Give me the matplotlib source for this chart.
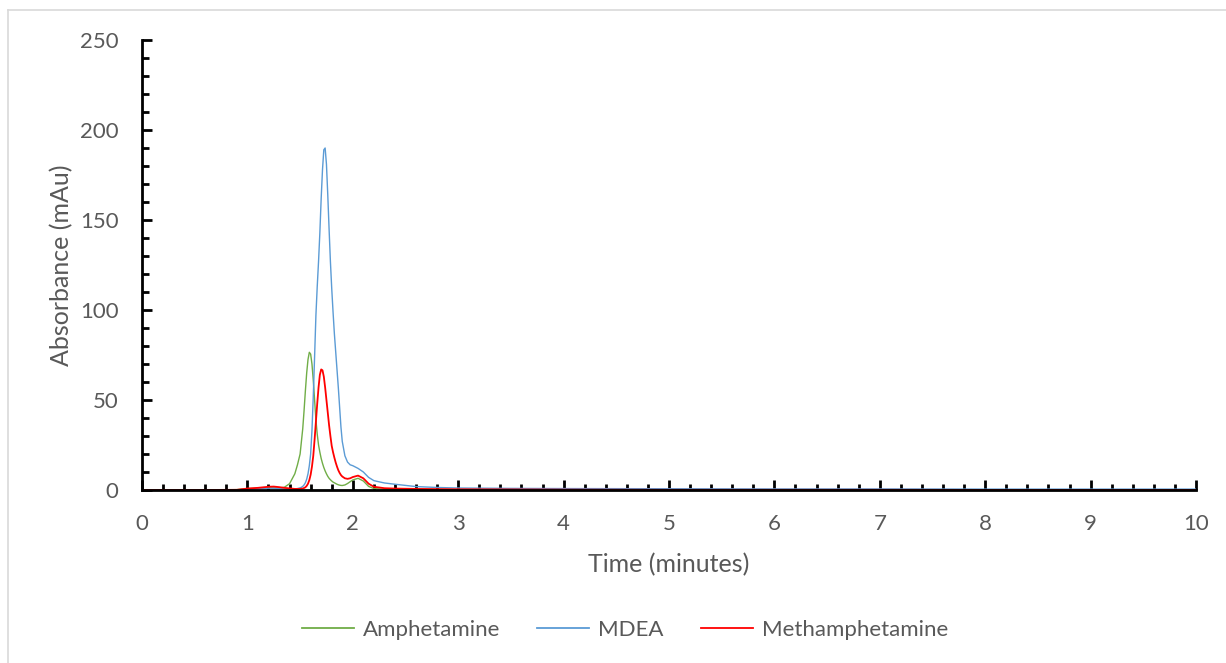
import matplotlib.pyplot as plt
from matplotlib.lines import Line2D
from matplotlib.ticker import MultipleLocator

# retention time (minutes) and absorbance (mAu)
time_min = [0, 0.5, 0.9, 1.0, 1.1, 1.2, 1.25, 1.3, 1.35, 1.4, 1.45, 1.475,
            1.5, 1.5125, 1.525, 1.5375, 1.55, 1.5625, 1.575, 1.5875, 1.6, 1.6125, 1.625,
            1.6375, 1.65, 1.6625, 1.675, 1.6875, 1.7, 1.7125, 1.725, 1.7375, 1.75, 1.7625,
            1.775, 1.7875, 1.8, 1.8125, 1.825, 1.8375, 1.85, 1.8625, 1.875, 1.8875, 1.9,
            1.925, 1.95, 1.975, 2.0, 2.05, 2.1, 2.15, 2.2, 2.3, 2.4, 2.6, 2.8, 3.0, 3.5,
            4, 5, 6, 7, 8, 9, 10]

amphetamine = [0, 0, 0.2, 0.8, 1.0, 1.2, 1.2, 1.1, 1.5, 3.5, 9, 14,
               20, 27, 34, 44, 55, 65, 72.5, 76.5, 75.5, 70, 61,
               50, 39, 31, 25, 21, 17.5, 14.8, 12.5, 10.6, 9, 7.6,
               6.5, 5.7, 5, 4.4, 4, 3.6, 3.2, 2.9, 2.7, 2.55, 2.5,
               2.8, 3.6, 4.6, 5.6, 6.5, 5.0, 2.0, 0.8, 0.4, 0.3, 0.2, 0.2, 0.2, 0.1,
               0.1, 0.1, 0.1, 0.1, 0.1, 0.1, 0.1]

mdea = [0, 0, 0, 0.5, 0.8, 1.0, 1.0, 0.8, 0.6, 0.5, 0.6, 0.8,
        1.2, 1.5, 2.0, 2.8, 4, 6, 9, 13.5, 20, 33, 52,
        74, 97, 113, 127, 143, 162, 178, 189, 190, 181, 164,
        145, 127, 112, 99, 87, 77, 67, 57, 46, 35, 27,
        19, 15.5, 14, 13.5, 12, 10, 7, 5.2, 3.9, 3.2, 1.9, 1.4, 1.1, 0.9,
        0.8, 0.7, 0.6, 0.6, 0.5, 0.5, 0.5]

methamphetamine = [0, 0, 0.1, 0.8, 1.2, 1.8, 1.9, 1.6, 1.2, 0.9, 0.6, 0.6,
                   0.6, 0.7, 0.8, 1.1, 1.5, 2.3, 3.5, 5.5, 8.5, 13, 19,
                   28, 38, 48, 57, 64, 67, 66.5, 63, 57, 50, 43,
                   36, 30, 24.5, 21, 18, 15.3, 13, 11, 9.5, 8.3, 7.5,
                   6.5, 6.2, 6.5, 7.2, 8.0, 6.5, 3.5, 1.8, 1.0, 0.8, 0.6, 0.5, 0.4, 0.3,
                   0.2, 0.1, 0.1, 0.1, 0.05, 0.05, 0.05]

series_names = ["Amphetamine", "MDEA", "Methamphetamine"]
series_colors = ["#70AD47", "#5B9BD5", "#FF0000"]
series_widths = [1.0, 1.0, 1.3]

plt.rcParams['font.family'] = ['Lato', 'DejaVu Sans']
grey = "#595959"

fig = plt.figure(figsize=(12.26, 6.63), dpi=100)
ax = fig.add_axes([142 / 1226, 1 - 490 / 663, (1196 - 142) / 1226, (490 - 40) / 663])

for vals, name, col, lw in zip([amphetamine, mdea, methamphetamine],
                               series_names, series_colors, series_widths):
    ax.plot(time_min, vals, color=col, lw=lw, label=name, solid_joinstyle='round')

ax.set_xlim(0, 10)
ax.set_ylim(0, 250)
ax.xaxis.set_major_locator(MultipleLocator(1))
ax.xaxis.set_minor_locator(MultipleLocator(0.2))
ax.yaxis.set_major_locator(MultipleLocator(50))
ax.yaxis.set_minor_locator(MultipleLocator(10))

for s in ['top', 'right']:
    ax.spines[s].set_visible(False)
for s in ['left', 'bottom']:
    ax.spines[s].set_linewidth(2)
    ax.spines[s].set_color('black')

ax.tick_params(axis='x', which='major', direction='in', length=7, width=2, pad=17,
               labelsize=16, labelcolor=grey)
ax.tick_params(axis='x', which='minor', direction='in', length=4, width=2)
ax.tick_params(axis='y', which='major', direction='in', length=7, width=2, pad=17,
               labelsize=16, labelcolor=grey)
ax.tick_params(axis='y', which='minor', direction='in', length=5, width=2)

ax.set_xlabel("Time (minutes)", fontsize=18, color=grey, labelpad=14)
ax.set_ylabel("Absorbance (mAu)", fontsize=18, color=grey, labelpad=5)

handles = [Line2D([], [], color=c, lw=1.3) for c in series_colors]
fig.legend(handles, series_names, loc='center', bbox_to_anchor=(625 / 1226, 1 - 630 / 663),
           ncol=3, frameon=False, fontsize=16, labelcolor=grey, handlelength=2.35,
           columnspacing=1.65, handletextpad=0.4)

# chart area border
fig.add_artist(Line2D([8 / 1226, 8 / 1226], [0, 1 - 10 / 663], transform=fig.transFigure,
                      color="#D9D9D9", lw=1.2))
fig.add_artist(Line2D([8 / 1226, 1], [1 - 10 / 663, 1 - 10 / 663], transform=fig.transFigure,
                      color="#D9D9D9", lw=1.2))

fig.savefig("out.png", dpi=100)
